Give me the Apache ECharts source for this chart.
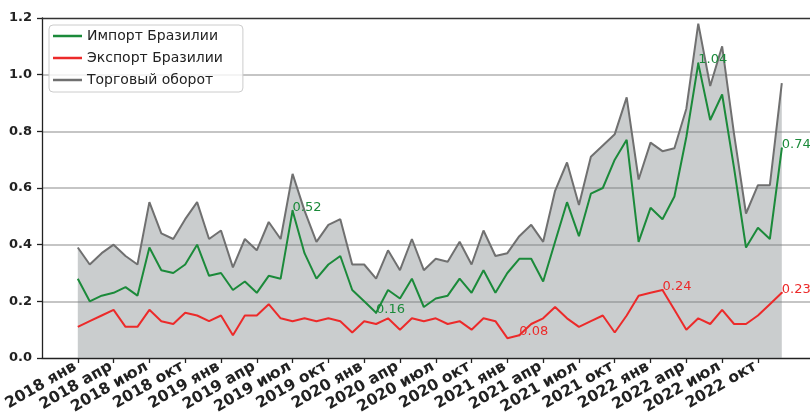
<!DOCTYPE html>
<html>
<head>
<meta charset="utf-8">
<script src="https://cdn.jsdelivr.net/npm/echarts@6/dist/echarts.min.js"></script>
<style>
html,body{margin:0;padding:0;background:#fff;}
#chart{width:810px;height:414px;}
</style>
</head>
<body>
<div id="chart"></div>
<script>
// ---- data ----
const years = ['2018', '2019', '2020', '2021', '2022'];
const monthNames = ['янв','фев','мар','апр','май','июн','июл','авг','сен','окт','ноя','дек'];
const importData = [
  0.28, 0.20, 0.22, 0.23, 0.25, 0.22, 0.39, 0.31, 0.30, 0.33, 0.40, 0.29,
  0.30, 0.24, 0.27, 0.23, 0.29, 0.28, 0.52, 0.37, 0.28, 0.33, 0.36, 0.24,
  0.20, 0.16, 0.24, 0.21, 0.28, 0.18, 0.21, 0.22, 0.28, 0.23, 0.31, 0.23,
  0.30, 0.35, 0.35, 0.27, 0.41, 0.55, 0.43, 0.58, 0.60, 0.70, 0.77, 0.41,
  0.53, 0.49, 0.57, 0.78, 1.04, 0.84, 0.93, 0.67, 0.39, 0.46, 0.42, 0.74
];
const exportData = [
  0.11, 0.13, 0.15, 0.17, 0.11, 0.11, 0.17, 0.13, 0.12, 0.16, 0.15, 0.13,
  0.15, 0.08, 0.15, 0.15, 0.19, 0.14, 0.13, 0.14, 0.13, 0.14, 0.13, 0.09,
  0.13, 0.12, 0.14, 0.10, 0.14, 0.13, 0.14, 0.12, 0.13, 0.10, 0.14, 0.13,
  0.07, 0.08, 0.12, 0.14, 0.18, 0.14, 0.11, 0.13, 0.15, 0.09, 0.15, 0.22,
  0.23, 0.24, 0.17, 0.10, 0.14, 0.12, 0.17, 0.12, 0.12, 0.15, 0.19, 0.23
];
const totalData = [
  0.39, 0.33, 0.37, 0.40, 0.36, 0.33, 0.55, 0.44, 0.42, 0.49, 0.55, 0.42,
  0.45, 0.32, 0.42, 0.38, 0.48, 0.42, 0.65, 0.52, 0.41, 0.47, 0.49, 0.33,
  0.33, 0.28, 0.38, 0.31, 0.42, 0.31, 0.35, 0.34, 0.41, 0.33, 0.45, 0.36,
  0.37, 0.43, 0.47, 0.41, 0.59, 0.69, 0.54, 0.71, 0.75, 0.79, 0.92, 0.63,
  0.76, 0.73, 0.74, 0.88, 1.18, 0.96, 1.10, 0.79, 0.51, 0.61, 0.61, 0.97
];
const importLabelIdx = [18, 25, 52, 59];
const exportLabelIdx = [37, 49, 59];
const seriesNames = ['Импорт Бразилии', 'Экспорт Бразилии', 'Торговый оборот'];

// ---- build ----
const months = [];
years.forEach(y => monthNames.forEach(m => months.push(y + ' ' + m)));
const tickIdx = [];
for (let i = 0; i < months.length; i += 3) tickIdx.push(i);

const GREEN = '#1b8a3a', RED = '#ec2a2a', GREY = '#707070';

function pts(arr, idx, color) {
  return arr.map((v, i) => idx.indexOf(i) >= 0
    ? { value: [i, v], symbol: 'circle', symbolSize: 2, itemStyle: { color: color }, label: { show: true } }
    : [i, v]);
}
const annLabel = (color) => ({
  show: false,
  position: [1, 4],
  align: 'left',
  verticalAlign: 'bottom',
  color: color,
  textBorderWidth: 0,
  fontFamily: 'DejaVu Sans',
  fontSize: 13,
  formatter: p => p.value[1].toFixed(2)
});

const chart = echarts.init(document.getElementById('chart'), null, { renderer: 'canvas' });
chart.setOption({
  animation: false,
  backgroundColor: '#fff',
  grid: { left: 42, right: -7, top: 18, bottom: 56, outerBoundsMode: 'none', containLabel: false },
  legend: {
    data: [
      { name: seriesNames[0], itemStyle: { color: GREEN, opacity: 1 } },
      { name: seriesNames[1], itemStyle: { color: RED, opacity: 1 } },
      { name: seriesNames[2], itemStyle: { color: GREY, opacity: 1 } }
    ],
    orient: 'vertical',
    left: 49, top: 25,
    padding: [4, 20, 5, 4],
    itemGap: 8,
    itemWidth: 29, itemHeight: 2.5,
    itemTextGap: 13,
    icon: 'rect',
    backgroundColor: 'rgba(255,255,255,0.8)',
    borderColor: '#cccccc', borderWidth: 1, borderRadius: 4,
    textStyle: { fontFamily: 'DejaVu Sans', fontSize: 14, color: '#222' }
  },
  xAxis: [{
    type: 'value',
    min: -3, max: 61.95,
    interval: 3,
    axisLine: { show: true, onZero: false, lineStyle: { color: '#222', width: 1.3 } },
    axisTick: { show: true, length: 5, customValues: tickIdx, lineStyle: { color: '#222', width: 1.3 } },
    axisLabel: {
      customValues: tickIdx,
      rotate: 30, margin: 6,
      padding: [0, 3, 0, 0],
      fontFamily: 'DejaVu Sans', fontSize: 15.5, fontWeight: 'bold', color: '#222',
      formatter: v => months[Math.round(v)] || ''
    },
    splitLine: { show: false }
  }, {
    type: 'value', position: 'top',
    min: -3, max: 61.95,
    axisLine: { show: true, onZero: false, lineStyle: { color: '#333', width: 1.3 } },
    axisTick: { show: false }, axisLabel: { show: false }, splitLine: { show: false }
  }],
  yAxis: {
    type: 'value',
    min: 0, max: 1.2, interval: 0.2,
    axisLine: { show: true, onZero: false, lineStyle: { color: '#222', width: 1.3 } },
    axisTick: { show: true, length: 5, lineStyle: { color: '#222', width: 1.3 } },
    axisLabel: {
      margin: 10,
      fontFamily: 'DejaVu Sans', fontSize: 13, fontWeight: 'bold', color: '#222',
      formatter: v => v.toFixed(1)
    },
    splitLine: { show: true, showMaxLine: false, showMinLine: false, lineStyle: { color: '#b2b2b2', width: 1.5 } }
  },
  series: [
    {
      name: seriesNames[2], type: 'line', data: pts(totalData, [], GREY),
      symbol: 'none', color: GREY,
      lineStyle: { color: GREY, width: 2 },
      areaStyle: { color: 'rgba(118,124,128,0.55)', origin: 'start' },
      z: 2
    },
    {
      name: seriesNames[0], type: 'line', data: pts(importData, importLabelIdx, GREEN),
      symbol: 'none', showSymbol: true, color: GREEN,
      lineStyle: { color: GREEN, width: 2 },
      label: annLabel(GREEN),
      z: 3
    },
    {
      name: seriesNames[1], type: 'line', data: pts(exportData, exportLabelIdx, RED),
      symbol: 'none', showSymbol: true, color: RED,
      lineStyle: { color: RED, width: 2 },
      label: annLabel(RED),
      z: 3
    }
  ]
});
</script>
</body>
</html>
